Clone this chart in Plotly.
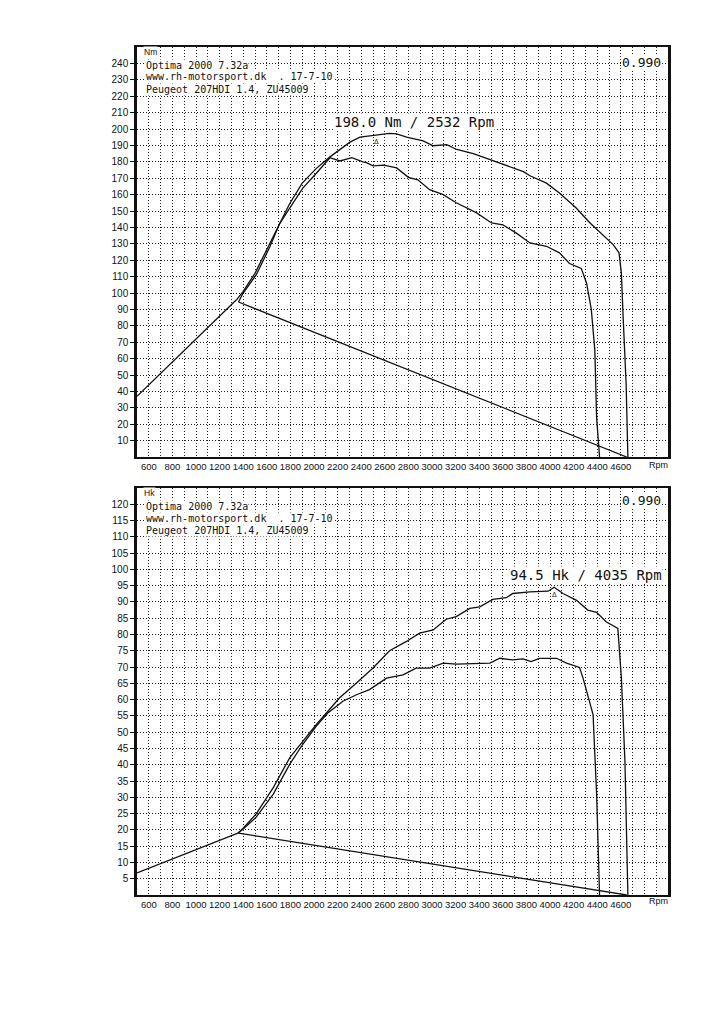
import plotly.graph_objects as go

# ---------------- data ----------------
rpm_ticks = list(range(600, 4601, 200))
nm_ticks = list(range(10, 241, 10))
hk_ticks = list(range(5, 121, 5))

# Torque panel (Nm)
ramp_t_rpm = [500, 1345]
ramp_t_nm = [37, 96]
loss_t_rpm = [1360, 4650]
loss_t_nm = [94.5, 0]
eng_t_rpm = [1345, 1400, 1500, 1570, 1680, 1790, 1900, 2020, 2135, 2220, 2305, 2390, 2530, 2640,
             2700, 2785, 2925, 3010, 3125, 3210, 3350, 3490, 3630, 3775, 3830, 3970, 4080, 4220,
             4335, 4420, 4535, 4585, 4605, 4620, 4645, 4660]
eng_t_nm = [96, 101, 112, 122, 138.5, 154, 167, 176, 183, 187.5, 192, 195, 196.5, 197.3,
            197, 195, 192.8, 189.8, 190.5, 187.5, 185, 181.5, 178, 174, 171.5, 167, 161, 152,
            143, 137.5, 129.5, 124.5, 112, 85, 45, 0]
whl_t_rpm = [1360, 1400, 1510, 1625, 1710, 1795, 1905, 2020, 2120, 2135, 2220, 2320, 2415, 2445,
             2500, 2590, 2700, 2800, 2880, 2980, 3095, 3205, 3375, 3505, 3600, 3715, 3830, 3970,
             4080, 4165, 4265, 4310, 4350, 4380, 4395, 4420]
whl_t_nm = [94.5, 100, 111, 128, 142.5, 152, 164, 173, 181, 182.5, 180.5, 182.5, 180, 179.5,
            177.5, 178, 176.3, 170.5, 169, 163, 160, 155, 149, 142.7, 141.6, 136.5, 130.5, 128.5,
            124.5, 118, 115, 106, 90, 65, 24, 0]

# Power panel (Hk)
ramp_p_rpm = [500, 1355]
ramp_p_hk = [6.8, 19.0]
loss_p_rpm = [1360, 4650]
loss_p_hk = [19.0, 0]
eng_p_rpm = [1355, 1400, 1510, 1655, 1795, 1905, 2020, 2120, 2215, 2360, 2500, 2640, 2780, 2895,
             3010, 3120, 3205, 3320, 3405, 3515, 3630, 3685, 3830, 3985, 4035, 4110, 4225, 4320,
             4395, 4475, 4575, 4605, 4635, 4660]
eng_p_hk = [19, 20.5, 24.9, 33, 42.2, 47.3, 52.4, 56.5, 60.5, 65.1, 69.7, 75, 77.8, 80.4,
            81.4, 84.7, 85.5, 88, 88.5, 90.8, 91.3, 92.6, 93.1, 93.3, 94.5, 92.6, 90.5, 87.5,
            86.8, 83.9, 81.9, 66.6, 41.2, 0]
whl_p_rpm = [1355, 1400, 1510, 1655, 1795, 1905, 2020, 2120, 2245, 2360, 2470, 2615, 2755, 2865,
             2980, 3095, 3205, 3375, 3490, 3575, 3685, 3770, 3840, 3910, 4055, 4140, 4250, 4280,
             4335, 4365, 4395, 4420]
whl_p_hk = [19, 20.3, 23.9, 31, 40.2, 46.3, 51.9, 56, 59.5, 61.5, 63.1, 66.6, 67.6, 69.7,
            69.7, 71.2, 70.9, 71.2, 71.2, 72.7, 72.2, 72.5, 71.7, 72.7, 72.7, 71.2, 69.9, 66.6,
            59.5, 55.4, 31, 0]

peak_t_rpm, peak_t_val = 2532, 198.0
peak_p_rpm, peak_p_val = 4035, 94.5

header_lines = ["Optima 2000 7.32a", "www.rh-motorsport.dk  . 17-7-10", "Peugeot 207HDI 1.4, ZU45009"]
corr_factor = "0.990"

# ---------------- figure ----------------
W, H = 728, 1020
def px(x, y):
    return x / W, 1 - y / H

LINE = dict(color="#111111", width=1.3)
fig = go.Figure()
for xs, ys in [(ramp_t_rpm, ramp_t_nm), (loss_t_rpm, loss_t_nm),
               (eng_t_rpm, eng_t_nm), (whl_t_rpm, whl_t_nm)]:
    fig.add_trace(go.Scatter(x=xs, y=ys, mode="lines", line=LINE, xaxis="x", yaxis="y",
                             hoverinfo="skip"))
for xs, ys in [(ramp_p_rpm, ramp_p_hk), (loss_p_rpm, loss_p_hk),
               (eng_p_rpm, eng_p_hk), (whl_p_rpm, whl_p_hk)]:
    fig.add_trace(go.Scatter(x=xs, y=ys, mode="lines", line=LINE, xaxis="x2", yaxis="y2",
                             hoverinfo="skip"))

xdom = [137 / W, 668 / W]
sans = "Liberation Sans, Arial, sans-serif"
tick_font = dict(family=sans, size=10, color="#111111")
xtick_font = dict(family=sans, size=9.5, color="#111111")
GRID = dict(showgrid=True, gridcolor="#222222", gridwidth=1, griddash="1px,2px")

def xaxis(anchor):
    return dict(domain=xdom, anchor=anchor, range=[500, 5000], tickmode="array",
                tickvals=rpm_ticks, ticktext=[str(v) for v in rpm_ticks], ticks="",
                tickangle=0, tickfont=xtick_font, showline=True, linecolor="#111111",
                linewidth=2, mirror=True, zeroline=False,
                minor=dict(tick0=500, dtick=100, showgrid=True, gridcolor="#222222",
                           gridwidth=1, griddash="1px,2px"),
                **GRID)

def yaxis(anchor, dom, rng, tvals):
    return dict(domain=dom, anchor=anchor, range=rng, tickmode="array", tickvals=tvals,
                ticktext=[str(v) for v in tvals], ticks="outside", ticklen=4,
                tickcolor="#111111", tickfont=tick_font, showline=True, linecolor="#111111",
                linewidth=2.5, mirror=True, zeroline=False, **GRID)

fig.update_layout(
    width=W, height=H, margin=dict(l=0, r=0, t=0, b=0),
    paper_bgcolor="white", plot_bgcolor="white", showlegend=False,
    xaxis=xaxis("y"),
    yaxis=yaxis("x", [1 - 457 / H, 1 - 47 / H], [0, 250], nm_ticks),
    xaxis2=xaxis("y2"),
    yaxis2=yaxis("x2", [1 - 895 / H, 1 - 488 / H], [0, 125], hk_ticks),
)

mono = "DejaVu Sans Mono, Liberation Mono, monospace"
ann = []
def text(x, y, s, size, anchor="left", bg=True, family=mono):
    ax, ay = px(x, y)
    ann.append(dict(xref="paper", yref="paper", x=ax, y=ay, text=s, showarrow=False,
                    xanchor=anchor, yanchor="middle",
                    font=dict(family=family, size=size, color="#111111"),
                    bgcolor="white" if bg else None, borderpad=0))

for top, unit in [(47, "Nm"), (488, "Hk")]:
    text(143, top + 5, unit, 8.5, bg=True, family=sans)
    for i, s in enumerate(header_lines):
        text(145, top + 18 + i * 12, s.replace(" ", "&nbsp;"), 10)
for y in (62, 500):
    text(641, y, corr_factor, 13, anchor="center")

text(414, 122, f"{peak_t_val:.1f} Nm / {peak_t_rpm} Rpm", 14, anchor="center")
text(586, 575, f"{peak_p_val:.1f} Hk / {peak_p_rpm} Rpm", 14, anchor="center")
for y in (465, 901):
    text(658, y, "Rpm", 9, anchor="center", bg=False, family=sans)

ann.append(dict(xref="x", yref="y", x=peak_t_rpm, y=peak_t_val, text="Δ", showarrow=False,
                yshift=-8, font=dict(size=8, color="#111111")))
ann.append(dict(xref="x2", yref="y2", x=peak_p_rpm, y=peak_p_val, text="Δ", showarrow=False,
                yshift=-6, font=dict(size=8, color="#111111")))
fig.update_layout(annotations=ann)

fig.write_html("out.html")
